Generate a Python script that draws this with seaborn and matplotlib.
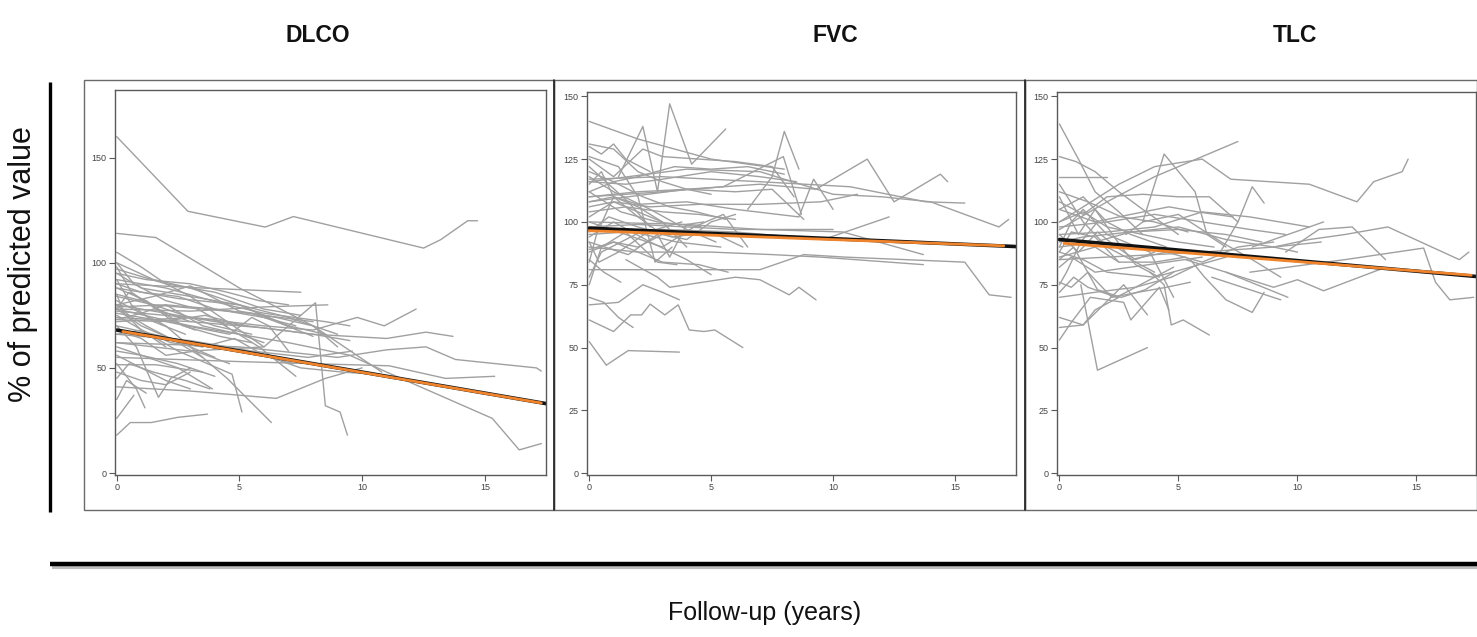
import matplotlib
matplotlib.use("Agg")
import matplotlib.pyplot as plt
from matplotlib.patches import Rectangle
from matplotlib.lines import Line2D
import seaborn as sns
import pandas as pd

# ---------------- data ----------------
PANELS = ["DLCO", "FVC", "TLC"]
X_TICKS = [0, 5, 10, 15]
DLCO_Y_TICKS = [0, 50, 100, 150]
FVC_Y_TICKS = [0, 25, 50, 75, 100, 125, 150]
TLC_Y_TICKS = [0, 25, 50, 75, 100, 125, 150]

DLCO_T = [
    [0, 2.9, 6.05, 7.2, 12.5, 13.2, 14.3, 14.7],
    [0, 1.6, 5, 8, 10.8],
    [0, 3.5, 7.5],
    [0, 3, 6, 8.6],
    [0, 3, 6, 8, 9.8, 10.9, 12.2],
    [0, 4, 8, 11, 12.6, 13.7],
    [0, 5, 9, 11, 12.6, 13.8, 17.1, 17.3],
    [0, 5, 8, 11.1, 13.4, 15.4],
    [0, 3, 7, 9.5, 11, 15.3, 16.4, 17.3],
    [0, 3, 6, 8.1, 8.5, 9.1, 9.4],
    [0, 0.55, 1.4, 2.5, 3.7],
    [0, 3, 6.5, 8.5, 10],
    [0, 1.6, 3.5],
    [0, 2, 4.5, 6.3],
    [0, 2.5, 4.7, 5.1],
    [0, 0.8, 1.15],
    [0, 0.7],
    [0, 2.5, 3.9],
    [0, 1, 2, 3, 4.5, 6],
    [0, 1.5, 3, 5, 7],
    [0, 2, 4, 6, 7.5],
    [0, 1, 3, 5, 6.5, 8],
    [0, 2, 4.5, 6, 8.5, 9.5],
    [0, 1, 2.5, 4, 5.5],
    [0, 1.5, 3, 5, 6.5, 8, 9],
    [0, 1, 2, 3, 4],
    [0, 0.5, 1.2, 2.5, 3.5],
    [0, 1, 2, 3.2, 4.6],
    [0, 0.8, 1.7, 2.2, 3],
    [0, 1, 2.5, 4],
    [0, 0.5, 1.5, 2.8, 3.8],
    [0, 2, 4.6, 5.5, 6.2, 7],
    [0, 0.3, 1, 2],
    [0, 1.2, 2.7, 4.2, 5.5],
    [0, 3, 6, 8, 9.5],
    [0, 0.4, 1.2],
    [0, 1, 2, 3],
    [0, 0.6, 1.6, 3],
    [0, 2, 4, 5.8, 7.3],
    [0, 3, 6, 7.5, 9.2, 10.5, 11.5],
    [0, 1, 2.5, 4, 6, 7.3],
    [0, 1.5, 3.5, 5.5, 7, 8.5],
    [0, 2, 4, 6, 8],
    [0, 0.7, 2, 3.3, 4.5],
    [0, 1, 2, 3.5, 5, 6],
    [0, 1.2, 3, 4.5, 5.8, 7],
    [0, 2.5, 5, 7, 9],
    [0, 0.5, 1.4, 2.3, 3.2],
    [0, 1, 2.2, 3.5, 4.8, 6, 7.2],
    [0, 1.8, 3.6, 5.2],
    [0, 0.6, 1.5, 2.8],
    [0, 3, 5.5, 7.8, 9.6],
    [0, 1, 2, 3],
]
DLCO_V = [
    [160, 124.5, 117, 122, 107, 111, 120, 120],
    [114, 112, 88, 70, 48],
    [90, 88, 86],
    [78, 77, 79, 80],
    [72, 74, 70, 68, 74, 70, 78],
    [80, 72, 66, 64, 67, 65],
    [62, 60, 55, 58.6, 60, 54, 50, 48.5],
    [55, 53, 52, 51, 45, 46],
    [78, 70, 62, 56, 48, 26, 11, 14],
    [62, 58, 60, 81, 32, 29, 18],
    [18, 24, 24, 26.5, 28],
    [41, 39, 35.5, 45, 50],
    [51.5, 51.5, 48],
    [82, 70, 45, 24],
    [75, 58, 47, 29],
    [52, 40, 31],
    [26, 37],
    [60, 50, 40],
    [105, 98, 90, 84, 72, 60],
    [100, 92, 88, 80, 70],
    [97, 90, 86, 78, 75],
    [95, 88, 84, 80, 72, 65],
    [92, 88, 80, 76, 72, 70],
    [85, 82, 76, 70, 66],
    [80, 84, 89, 77, 74, 70, 60],
    [78, 70, 65, 60, 55],
    [80, 75, 70, 62, 55],
    [68, 64, 56, 58, 52],
    [70, 60, 36, 45, 50],
    [58, 56, 52, 46],
    [45, 52, 48, 44, 40],
    [76, 72, 66, 74, 70, 58],
    [85, 76, 68, 60],
    [88, 82, 70, 65, 62],
    [74, 72, 69, 66, 63],
    [35, 44, 38],
    [48, 44, 42, 48],
    [98, 86, 78, 72],
    [77, 75, 73, 60, 46],
    [70, 62, 56, 50, 48, 47, 45],
    [90, 86, 84, 78, 74, 70],
    [84, 80, 78, 76, 70, 66],
    [79, 80, 78, 75, 72],
    [100, 90, 82, 78, 70],
    [73, 76, 80, 70, 66, 62],
    [95, 92, 90, 86, 82, 80],
    [88, 83, 80, 74, 66],
    [78, 86, 80, 72, 68],
    [66, 68, 62, 60, 64, 56, 52],
    [73, 72, 75, 70],
    [92, 80, 72, 66],
    [66, 63, 58, 55, 58],
    [56, 50, 44, 40],
]

FVC_T = [
    [0, 2, 5, 8],
    [1.2, 2.2, 2.8, 3.3, 4.2, 5.6],
    [6.5, 7.5, 8, 8.6],
    [0, 3, 5.5, 7.96, 8.7],
    [0, 4, 7, 9.3, 11.4, 12.5, 14.4, 14.7],
    [0, 3, 7, 10.7, 13.8, 15.4],
    [0, 4, 7, 10, 12, 14, 16.8, 17.2],
    [0, 3, 6, 9.6, 12.3],
    [0, 4, 7, 10.4, 13.7],
    [0, 7, 8.8, 10.5, 15.4, 16.4, 17.3],
    [1.5, 2.8, 3.3, 6, 7, 8.2, 8.6, 9.3],
    [0, 1.2, 2.2, 3, 3.7],
    [0, 1, 1.7, 2.15, 2.5, 3.1, 3.65, 4.1, 4.7, 5.15, 6.3],
    [0, 0.7, 1.6, 3.7],
    [0, 0.6, 1.2, 1.8],
    [0, 1, 2, 3, 4, 5],
    [0, 0.5, 1, 1.5, 2.5],
    [0, 1, 2.2, 3, 4.5, 6, 7.5, 8.4],
    [0, 1.5, 3, 5, 7, 8.5],
    [0, 1, 2, 4, 6, 8.6, 9.2, 10],
    [0, 2, 4, 6, 8, 10],
    [0, 1, 2.5, 4, 5],
    [0, 1, 2, 3, 4.5, 5.7],
    [0, 0.5, 1.5, 2.8, 3.6],
    [0, 1, 2, 3, 4],
    [0, 0.8, 1.6, 2.5],
    [0, 1.3, 2.8, 4.6],
    [0, 0.3, 1, 2, 3],
    [0, 2, 5, 7.5, 9.5, 13.7],
    [0, 0.6, 1.3],
    [0, 1.5, 3, 4.3, 5.5, 6.5],
    [0, 1, 2.5, 4, 5.2],
    [0, 0.5, 1.3, 2.1],
    [0, 1.6, 2.8, 3.3, 4, 4.7],
    [0, 1.2, 2, 2.7, 3.4],
    [0, 1, 2, 3.5, 5, 6.5, 8],
    [0, 2, 4, 6, 7.5, 8.8],
    [0, 1.5, 3, 4.5, 6],
    [0, 0.8, 2, 3.4, 5, 6.3],
    [0, 1, 2, 3, 4, 5, 6],
    [0, 0.5, 1, 2, 3],
    [0, 1, 2.5, 4.5, 7, 9.5, 11],
    [0, 1.8, 3.6, 5.4],
    [0, 0.4, 1.2, 2.4, 3.8],
    [0, 1, 2.2, 3.3, 4.4, 5.6],
]
FVC_V = [
    [140, 133, 125, 121],
    [118, 138, 112, 147, 123, 137],
    [105, 118, 136, 121],
    [110, 112, 114, 126, 103],
    [108, 113, 115, 113, 125, 108, 119, 116],
    [117, 118, 116, 114, 108, 107.5],
    [116, 121, 120, 111, 110, 108, 98, 101],
    [95, 97, 96, 93, 102],
    [100, 99, 97, 96, 87],
    [81, 81, 87, 86, 84, 71, 70],
    [85, 78, 74, 78, 77, 71, 74, 69],
    [67, 68, 75, 72, 69],
    [61, 56.4, 63, 63, 67.3, 63, 67, 57, 56.4, 57, 50],
    [52.4, 43, 48.8, 48.2],
    [70, 68, 62, 58],
    [131, 129, 120, 116, 113, 111],
    [130, 127, 131, 125, 120],
    [125, 118, 129, 126, 125, 124, 122, 110],
    [116, 115, 117, 120, 118, 116],
    [108, 110, 107, 108, 105, 102, 117, 105],
    [98, 99, 98, 97, 97, 97],
    [94, 100, 92, 85, 79],
    [89, 92, 88, 84, 83, 80],
    [75, 90, 96, 84, 83],
    [102, 108, 104, 100, 90],
    [122, 115, 108, 98],
    [112, 104, 100, 98],
    [84, 95, 110, 106, 100],
    [90, 88, 88, 87, 86, 83],
    [85, 80, 76],
    [100, 95, 90, 98, 103, 90],
    [118, 112, 105, 97, 92],
    [78, 88, 92, 96],
    [92, 87, 95, 86, 99, 100],
    [126, 122, 110, 84, 90],
    [120, 116, 118, 122, 121, 122, 119],
    [110, 112, 113, 112, 113, 101],
    [104, 106, 104, 103, 101],
    [96, 102, 98, 94, 96, 90],
    [88, 92, 90, 95, 93, 100, 103],
    [115, 120, 110, 102, 95],
    [106, 108, 106, 107, 107, 108, 111],
    [98, 96, 92, 90],
    [92, 84, 88, 96, 100],
    [112, 116, 110, 106, 104, 101],
]

TLC_T = [
    [0, 0.8, 1.5, 2.5, 3.5],
    [0, 2, 4, 7.5],
    [0, 2.5, 4, 6, 7.2, 10.5, 12.5, 13.2, 14.4, 14.65],
    [2.8, 3.5, 4.4, 5.7, 6.2, 7],
    [6.7, 7.5, 8.1, 8.6],
    [9, 10.5, 12, 13.8, 16.8, 17.2],
    [9.5, 10.9, 12.3, 13.7],
    [8.1, 11.1],
    [8, 12, 15.3, 15.8, 16.4, 17.4],
    [7, 9, 10, 11.1, 13.6],
    [6.4, 9.3],
    [5.5, 6.1, 7, 8.1, 8.6],
    [5.3, 7, 9.6],
    [3.8, 4.4, 4.7, 5.2, 6.3],
    [0.9, 1.6, 3.7],
    [0, 1, 1.5, 2.5],
    [0, 0.5, 2],
    [0, 0.7, 1.5, 2.5, 3.5, 5],
    [0, 1, 2, 3.5, 5, 6.3, 7.5],
    [0, 1.5, 3, 4.6, 5.8, 7.3],
    [0, 2, 4, 6, 8, 10.5],
    [0, 1, 3, 5, 7, 9, 10],
    [0, 1.5, 2.5, 4, 5.3],
    [0, 0.5, 1.2, 2.2, 3.3, 4.5, 5.5],
    [0, 1, 2.7, 3.7],
    [0, 0.5, 1.3, 2.7, 3, 4.2, 4.6],
    [0, 0.6, 1.6, 2.6, 3.6, 4.8],
    [0, 1, 2, 3, 4],
    [0, 0.8, 1.5, 2.6, 3.2, 4.2],
    [0, 0.5, 1, 2, 3.8, 4.8],
    [0, 2, 4, 6, 9, 11],
    [0, 1, 2, 4, 5.5, 7],
    [0, 0.3, 0.9, 1.6],
    [0, 1.5, 3.2, 4.7, 5.8],
    [3.5, 5, 6.8, 8.1, 9.3],
    [0, 1, 2, 3, 4, 5, 6.5],
    [0, 0.8, 1.6, 2.4, 3.2, 4],
    [0, 1.5, 3, 5, 7, 8.5],
    [0, 0.5, 1.5, 3, 4.5, 6],
    [0, 1, 2, 3, 4.5],
    [0, 0.6, 1.2, 2.4, 3.6, 4.8],
    [0, 2, 4, 6, 8, 9.5],
    [0, 1.2, 2.6, 4, 5.4],
    [0, 0.5, 1.5, 2.5],
    [3, 4.5, 6, 7.5, 9],
]
TLC_V = [
    [139, 125, 112, 104, 95],
    [97, 108, 118, 132],
    [100, 115, 122, 125, 117, 115, 108, 116, 120, 125],
    [95, 100, 127, 112, 95, 90],
    [87, 100, 114, 107.5],
    [90, 93, 95, 98, 85, 88],
    [88, 97, 98, 85],
    [90, 100],
    [80, 85, 89.6, 76, 69, 70],
    [80, 74, 77, 72.6, 81.6],
    [78, 69],
    [85, 78, 69, 64, 72],
    [85, 80, 70],
    [80, 75, 59, 61, 55],
    [75, 41, 50],
    [58, 59, 65, 70],
    [118, 118, 118],
    [126, 124, 120, 112, 105, 95],
    [108, 103, 110, 111, 110, 110, 100],
    [105, 100, 103, 106, 104, 102],
    [95, 96, 98, 104, 102, 98],
    [92, 94, 96, 98, 93, 90, 88],
    [86, 90, 84, 84, 86],
    [76, 74, 80, 70, 72, 74, 76],
    [62, 59, 75, 63],
    [53, 60, 70, 68, 61, 74, 65],
    [85, 90, 73, 70, 73, 80],
    [115, 100, 90, 85, 80],
    [110, 95, 105, 90, 83, 78],
    [90, 100, 105, 95, 88, 70],
    [85, 86, 87, 88, 90, 92],
    [88, 85, 80, 78, 82, 86],
    [75, 80, 92, 100],
    [70, 72, 74, 78, 83],
    [100, 103, 92, 85, 78],
    [100, 104, 98, 96, 94, 92, 90],
    [95, 88, 96, 90, 85, 88],
    [90, 92, 96, 97, 95, 92],
    [82, 86, 80, 82, 84, 86],
    [105, 110, 100, 95, 90],
    [72, 78, 74, 70, 76, 82],
    [98, 100, 103, 100, 97, 95],
    [112, 108, 102, 100, 96],
    [88, 96, 94, 84],
    [85, 88, 84, 90, 92],
]

# mean (fitted) trajectories: black and orange
DLCO_FIT_BLACK_T = [0, 17.5]
DLCO_FIT_BLACK_V = [68, 33]
DLCO_FIT_ORANGE_T = [0.25, 17.3]
DLCO_FIT_ORANGE_V = [67.3, 33.3]
FVC_FIT_BLACK_T = [0, 17.5]
FVC_FIT_BLACK_V = [97.5, 90.2]
FVC_FIT_ORANGE_T = [0, 17.0]
FVC_FIT_ORANGE_V = [96.5, 90.5]
TLC_FIT_BLACK_T = [0, 17.5]
TLC_FIT_BLACK_V = [93, 78.3]
TLC_FIT_ORANGE_T = [0.2, 17.3]
TLC_FIT_ORANGE_V = [91.5, 78.8]

# ---------------- styling ----------------
sns.set_style("white")
plt.rcParams["font.family"] = ["Liberation Sans", "DejaVu Sans"]

W, H = 1477, 637
fig = plt.figure(figsize=(W / 100, H / 100), dpi=100)
fig.patch.set_facecolor("white")


def fx(px):
    return px / W


def fy(py):
    return 1 - py / H


def long_df(times, values):
    rows = []
    for sid, (ts, vs) in enumerate(zip(times, values)):
        for t, v in zip(ts, vs):
            rows.append((sid, t, v))
    return pd.DataFrame(rows, columns=["subject", "time", "value"])


panel_specs = [
    ("DLCO", (115, 90, 546, 475), (-0.07, 17.49), (-0.95, 182.2), DLCO_T, DLCO_V, DLCO_Y_TICKS,
     (DLCO_FIT_BLACK_T, DLCO_FIT_BLACK_V, DLCO_FIT_ORANGE_T, DLCO_FIT_ORANGE_V)),
    ("FVC", (587, 92, 1016, 475), (-0.09, 17.5), (-0.7, 151.7), FVC_T, FVC_V, FVC_Y_TICKS,
     (FVC_FIT_BLACK_T, FVC_FIT_BLACK_V, FVC_FIT_ORANGE_T, FVC_FIT_ORANGE_V)),
    ("TLC", (1057, 92, 1476, 475), (-0.1, 17.5), (-0.7, 151.7), TLC_T, TLC_V, TLC_Y_TICKS,
     (TLC_FIT_BLACK_T, TLC_FIT_BLACK_V, TLC_FIT_ORANGE_T, TLC_FIT_ORANGE_V)),
]

frames = [(84, 80, 554, 510), (554, 80, 1025, 510), (1025, 80, 1477, 510)]
title_x = [318, 835, 1295]

for (name, box, xlim, ylim, ts, vs, yt, fits), fr, tx in zip(panel_specs, frames, title_x):
    fig.patches.append(Rectangle((fx(fr[0]), fy(fr[3])), fx(fr[2] - fr[0]), (fr[3] - fr[1]) / H,
                                 transform=fig.transFigure, fill=False, edgecolor="#6a6a6a",
                                 linewidth=1.0, zorder=0))
    l, t, r, b = box
    ax = fig.add_axes([fx(l), fy(b), fx(r - l), (b - t) / H])
    df = long_df(ts, vs)
    sns.lineplot(data=df, x="time", y="value", units="subject", estimator=None, sort=False,
                 color="#a0a0a0", linewidth=1.0, ax=ax, legend=False)
    bt, bv, ot, ov = fits
    sns.lineplot(x=bt, y=bv, color="#111111", linewidth=2.6, ax=ax, legend=False)
    sns.lineplot(x=ot, y=ov, color="#f0842c", linewidth=2.0, ax=ax, legend=False)
    ax.set_xlim(*xlim)
    ax.set_ylim(*ylim)
    ax.set_xticks(X_TICKS)
    ax.set_yticks(yt)
    ax.set_xlabel("")
    ax.set_ylabel("")
    for s in ax.spines.values():
        s.set_color("#5a5a5a")
        s.set_linewidth(1.0)
    ax.tick_params(axis="both", direction="out", length=4, width=0.8, color="#5a5a5a",
                   labelsize=6.5, labelcolor="#444444", pad=2, left=True, bottom=True)
    fig.text(fx(tx), fy(35), name, ha="center", va="center", fontsize=16.5,
             fontweight="bold", color="#111111")

for xp in (554, 1025):
    fig.add_artist(Line2D([fx(xp), fx(xp)], [fy(510), fy(80)], transform=fig.transFigure,
                          color="#222222", linewidth=1.2))

fig.text(fx(23), fy(264), "% of predicted value", rotation=90, ha="center", va="center",
         fontsize=22, color="#111111")
fig.add_artist(Line2D([fx(50), fx(50)], [fy(512), fy(82)], transform=fig.transFigure,
                      color="#000000", linewidth=2.4, solid_capstyle="butt"))

fig.add_artist(Line2D([fx(52), fx(1477)], [fy(567), fy(567)], transform=fig.transFigure,
                      color="#bdbdbd", linewidth=3.0, solid_capstyle="butt"))
fig.add_artist(Line2D([fx(50), fx(1477)], [fy(564), fy(564)], transform=fig.transFigure,
                      color="#000000", linewidth=3.2, solid_capstyle="butt"))
fig.text(fx(765), fy(613), "Follow-up (years)", ha="center", va="center", fontsize=18,
         color="#111111")

fig.savefig("out.png", dpi=100, facecolor="white")
